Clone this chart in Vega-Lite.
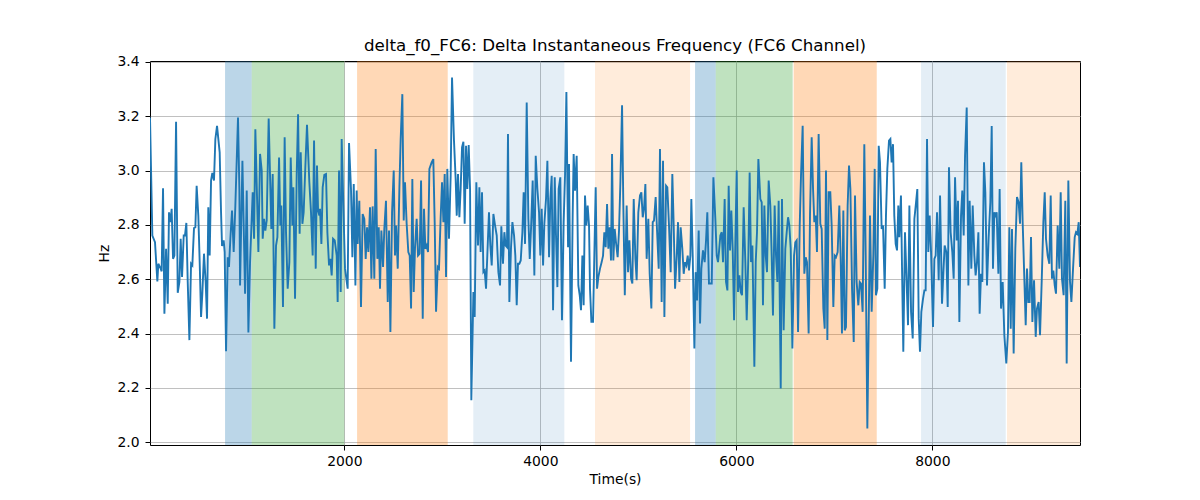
{
  "$schema": "https://vega.github.io/schema/vega-lite/v6.json",
  "width": 930,
  "height": 384,
  "autosize": {"type": "none"},
  "padding": {"left": 150, "top": 61, "right": 120, "bottom": 55},
  "background": "white",
  "title": {"text": "delta_f0_FC6: Delta Instantaneous Frequency (FC6 Channel)", "font": "DejaVu Sans", "fontSize": 16.7, "fontWeight": "normal", "color": "black", "offset": 0},
  "config": {
    "view": {"stroke": "black", "strokeWidth": 1},
    "axis": {"labelFont": "DejaVu Sans", "titleFont": "DejaVu Sans", "labelFontSize": 13.9, "titleFontSize": 13.9, "titleFontWeight": "normal", "labelColor": "black", "titleColor": "black", "tickColor": "black", "tickSize": 5, "domain": false, "gridColor": "#b0b0b0", "gridWidth": 0.8}
  },
  "datasets": {
    "bands": [
      {"start": 783, "end": 1055, "kind": "blue"},
      {"start": 1055, "end": 2000, "kind": "green"},
      {"start": 2130, "end": 3055, "kind": "orange"},
      {"start": 3316, "end": 4245, "kind": "lightblue"},
      {"start": 4558, "end": 5528, "kind": "lightorange"},
      {"start": 5579, "end": 5790, "kind": "blue"},
      {"start": 5790, "end": 6575, "kind": "green"},
      {"start": 6585, "end": 7433, "kind": "orange"},
      {"start": 7885, "end": 8749, "kind": "lightblue"},
      {"start": 8762, "end": 9507, "kind": "lightorange"}
    ],
    "series": [
      {"t":17,"v":3.195},{"t":41,"v":2.761},{"t":68,"v":2.736},{"t":92,"v":2.592},{"t":102,"v":2.657},{"t":126,"v":2.639},{"t":136,"v":2.629},{"t":150,"v":2.935},{"t":164,"v":2.473},{"t":181,"v":2.712},{"t":198,"v":2.510},{"t":211,"v":2.846},{"t":225,"v":2.810},{"t":238,"v":2.859},{"t":252,"v":2.675},{"t":266,"v":2.687},{"t":283,"v":3.179},{"t":300,"v":2.550},{"t":317,"v":2.590},{"t":330,"v":2.749},{"t":344,"v":2.608},{"t":361,"v":2.761},{"t":374,"v":2.761},{"t":388,"v":2.807},{"t":402,"v":2.590},{"t":419,"v":2.376},{"t":436,"v":2.657},{"t":449,"v":2.651},{"t":466,"v":2.788},{"t":480,"v":2.791},{"t":493,"v":2.944},{"t":510,"v":2.834},{"t":524,"v":2.663},{"t":538,"v":2.461},{"t":551,"v":2.547},{"t":568,"v":2.694},{"t":585,"v":2.590},{"t":599,"v":2.455},{"t":612,"v":2.865},{"t":626,"v":2.687},{"t":640,"v":2.963},{"t":653,"v":2.991},{"t":670,"v":2.963},{"t":684,"v":3.116},{"t":701,"v":3.164},{"t":728,"v":3.067},{"t":742,"v":2.846},{"t":752,"v":2.722},{"t":769,"v":2.743},{"t":779,"v":2.700},{"t":793,"v":2.335},{"t":810,"v":2.681},{"t":823,"v":2.645},{"t":837,"v":2.749},{"t":854,"v":2.853},{"t":871,"v":2.700},{"t":888,"v":2.871},{"t":915,"v":3.195},{"t":929,"v":2.932},
      {"t":936,"v":2.577},{"t":960,"v":3.036},{"t":987,"v":2.547},{"t":1004,"v":2.926},{"t":1021,"v":2.404},{"t":1038,"v":2.663},{"t":1065,"v":2.920},{"t":1079,"v":2.749},{"t":1092,"v":3.152},{"t":1123,"v":2.700},{"t":1140,"v":3.061},{"t":1157,"v":3.000},{"t":1167,"v":2.749},{"t":1181,"v":2.822},{"t":1194,"v":2.779},{"t":1208,"v":2.816},{"t":1228,"v":3.191},{"t":1255,"v":2.785},{"t":1269,"v":2.987},{"t":1286,"v":2.418},{"t":1303,"v":2.724},{"t":1317,"v":2.755},{"t":1334,"v":3.048},{"t":1347,"v":2.798},{"t":1357,"v":2.871},{"t":1374,"v":2.498},{"t":1391,"v":3.122},{"t":1405,"v":2.773},{"t":1422,"v":2.565},{"t":1439,"v":2.663},{"t":1453,"v":3.048},{"t":1470,"v":2.798},{"t":1480,"v":2.938},{"t":1497,"v":2.528},{"t":1514,"v":2.987},{"t":1528,"v":3.207},{"t":1544,"v":2.767},{"t":1555,"v":3.067},{"t":1572,"v":2.804},{"t":1585,"v":2.846},{"t":1602,"v":3.012},{"t":1619,"v":3.168},{"t":1643,"v":2.957},{"t":1660,"v":2.846},{"t":1677,"v":2.687},{"t":1691,"v":3.110},{"t":1708,"v":2.639},{"t":1721,"v":3.018},{"t":1732,"v":2.853},{"t":1745,"v":2.834},{"t":1752,"v":2.859},{"t":1766,"v":2.730},{"t":1779,"v":2.938},{"t":1796,"v":2.984},{"t":1813,"v":2.987},{"t":1827,"v":2.773},{"t":1844,"v":2.651},{"t":1857,"v":2.675},{"t":1871,"v":2.614},{"t":1885,"v":2.749},{"t":1902,"v":2.743},
      {"t":1922,"v":2.687},{"t":1932,"v":2.516},{"t":1946,"v":3.000},{"t":1963,"v":2.553},{"t":1973,"v":3.116},{"t":1990,"v":2.871},{"t":2007,"v":2.639},{"t":2034,"v":2.565},{"t":2048,"v":3.101},{"t":2068,"v":2.932},{"t":2082,"v":2.681},{"t":2096,"v":2.950},{"t":2113,"v":2.577},{"t":2126,"v":2.926},{"t":2136,"v":2.730},{"t":2153,"v":2.889},{"t":2170,"v":2.498},{"t":2187,"v":2.840},{"t":2204,"v":2.822},{"t":2218,"v":2.675},{"t":2232,"v":2.791},{"t":2245,"v":2.700},{"t":2262,"v":2.865},{"t":2276,"v":2.602},{"t":2289,"v":2.868},{"t":2306,"v":2.602},{"t":2320,"v":3.079},{"t":2337,"v":2.675},{"t":2351,"v":2.791},{"t":2364,"v":2.565},{"t":2378,"v":2.779},{"t":2395,"v":2.645},{"t":2408,"v":2.785},{"t":2425,"v":2.889},{"t":2443,"v":2.516},{"t":2456,"v":2.779},{"t":2470,"v":2.406},{"t":2487,"v":2.846},{"t":2504,"v":3.000},{"t":2517,"v":2.687},{"t":2528,"v":2.798},{"t":2545,"v":2.639},{"t":2562,"v":2.938},{"t":2575,"v":3.116},{"t":2592,"v":3.281},{"t":2606,"v":2.816},{"t":2619,"v":2.957},{"t":2636,"v":2.804},{"t":2653,"v":2.700},{"t":2667,"v":2.687},{"t":2681,"v":2.492},{"t":2694,"v":2.969},{"t":2708,"v":2.553},{"t":2721,"v":2.712},{"t":2738,"v":2.822},{"t":2752,"v":2.687},{"t":2769,"v":2.694},{"t":2783,"v":2.963},{"t":2800,"v":2.455},{"t":2813,"v":2.859},{"t":2827,"v":2.712},{"t":2840,"v":2.724},{"t":2854,"v":2.700},{"t":2868,"v":3.006},
      {"t":2891,"v":3.030},{"t":2908,"v":3.042},{"t":2922,"v":2.810},{"t":2936,"v":2.480},{"t":2953,"v":2.645},{"t":2966,"v":2.639},{"t":2983,"v":2.828},{"t":2997,"v":2.957},{"t":3011,"v":2.810},{"t":3024,"v":2.987},{"t":3038,"v":2.608},{"t":3051,"v":3.006},{"t":3068,"v":2.749},{"t":3085,"v":2.981},{"t":3099,"v":3.342},{"t":3119,"v":3.110},{"t":3136,"v":2.969},{"t":3147,"v":2.834},{"t":3160,"v":2.987},{"t":3174,"v":2.828},{"t":3187,"v":2.932},{"t":3201,"v":3.085},{"t":3215,"v":3.106},{"t":3228,"v":2.804},{"t":3242,"v":3.091},{"t":3255,"v":2.932},{"t":3269,"v":3.094},{"t":3283,"v":2.932},{"t":3296,"v":2.155},{"t":3317,"v":2.553},{"t":3330,"v":2.461},{"t":3347,"v":2.957},{"t":3364,"v":2.724},{"t":3378,"v":2.938},{"t":3391,"v":2.700},{"t":3405,"v":2.920},{"t":3419,"v":2.626},{"t":3432,"v":2.632},{"t":3446,"v":2.565},{"t":3459,"v":2.687},{"t":3476,"v":2.846},{"t":3490,"v":2.724},{"t":3504,"v":2.651},{"t":3521,"v":2.840},{"t":3538,"v":2.798},{"t":3555,"v":2.761},{"t":3572,"v":2.626},{"t":3589,"v":2.577},{"t":3602,"v":2.795},{"t":3619,"v":2.657},{"t":3633,"v":2.773},{"t":3646,"v":2.724},{"t":3660,"v":2.718},{"t":3670,"v":3.134},{"t":3684,"v":2.516},{"t":3701,"v":2.718},{"t":3715,"v":2.810},{"t":3732,"v":2.761},{"t":3745,"v":2.687},{"t":3759,"v":2.504},{"t":3772,"v":2.657},{"t":3786,"v":2.657},{"t":3800,"v":2.669},{"t":3817,"v":2.773},{"t":3830,"v":2.920},{"t":3844,"v":2.730},
      {"t":3861,"v":3.250},{"t":3878,"v":2.822},{"t":3892,"v":2.675},{"t":3905,"v":2.785},{"t":3922,"v":2.963},{"t":3939,"v":2.614},{"t":3953,"v":3.054},{"t":3970,"v":2.932},{"t":3987,"v":2.846},{"t":4000,"v":2.687},{"t":4014,"v":2.859},{"t":4028,"v":2.651},{"t":4041,"v":2.804},{"t":4058,"v":2.895},{"t":4072,"v":3.036},{"t":4089,"v":2.681},{"t":4102,"v":2.895},{"t":4116,"v":2.981},{"t":4130,"v":2.486},{"t":4147,"v":2.975},{"t":4160,"v":2.761},{"t":4174,"v":2.571},{"t":4187,"v":2.932},{"t":4204,"v":2.975},{"t":4221,"v":2.449},{"t":4238,"v":2.810},{"t":4252,"v":2.981},{"t":4266,"v":3.289},{"t":4283,"v":2.718},{"t":4293,"v":3.024},{"t":4313,"v":2.296},{"t":4330,"v":2.834},{"t":4340,"v":3.061},{"t":4354,"v":2.926},{"t":4371,"v":3.054},{"t":4388,"v":2.577},{"t":4402,"v":2.541},{"t":4415,"v":2.486},{"t":4429,"v":2.687},{"t":4442,"v":2.504},{"t":4456,"v":2.908},{"t":4470,"v":2.798},{"t":4483,"v":2.871},{"t":4497,"v":2.798},{"t":4507,"v":2.565},{"t":4521,"v":2.443},{"t":4538,"v":2.443},{"t":4551,"v":2.687},{"t":4565,"v":2.938},{"t":4579,"v":2.565},{"t":4592,"v":2.608},{"t":4609,"v":2.639},{"t":4626,"v":2.663},{"t":4640,"v":2.687},{"t":4653,"v":2.773},{"t":4667,"v":2.718},{"t":4681,"v":2.877},{"t":4694,"v":2.712},{"t":4708,"v":2.791},{"t":4721,"v":2.669},{"t":4732,"v":3.061},{"t":4745,"v":2.669},{"t":4759,"v":2.785},{"t":4772,"v":2.736},{"t":4789,"v":2.681},{"t":4803,"v":2.779},{"t":4817,"v":2.957},{"t":4834,"v":3.240},{"t":4847,"v":2.871},{"t":4862,"v":2.541},
      {"t":4881,"v":2.871},{"t":4895,"v":2.626},{"t":4909,"v":2.743},{"t":4926,"v":2.602},{"t":4939,"v":2.584},{"t":4953,"v":2.895},{"t":4970,"v":2.675},{"t":4983,"v":2.596},{"t":5000,"v":2.846},{"t":5017,"v":2.908},{"t":5031,"v":2.920},{"t":5045,"v":2.828},{"t":5058,"v":2.859},{"t":5072,"v":2.950},{"t":5085,"v":2.675},{"t":5102,"v":2.822},{"t":5116,"v":2.620},{"t":5133,"v":2.492},{"t":5147,"v":2.810},{"t":5160,"v":2.816},{"t":5177,"v":2.902},{"t":5191,"v":2.779},{"t":5208,"v":2.639},{"t":5221,"v":3.079},{"t":5238,"v":2.516},{"t":5252,"v":3.036},{"t":5266,"v":2.461},{"t":5283,"v":2.944},{"t":5296,"v":2.938},{"t":5313,"v":2.798},{"t":5330,"v":2.626},{"t":5347,"v":2.987},{"t":5361,"v":2.798},{"t":5375,"v":2.565},{"t":5392,"v":2.687},{"t":5405,"v":2.810},{"t":5419,"v":2.590},{"t":5432,"v":2.791},{"t":5449,"v":2.712},{"t":5463,"v":2.620},{"t":5477,"v":2.663},{"t":5490,"v":2.651},{"t":5504,"v":2.687},{"t":5517,"v":2.632},{"t":5531,"v":2.687},{"t":5541,"v":2.895},{"t":5555,"v":2.687},{"t":5572,"v":2.345},{"t":5585,"v":2.626},{"t":5599,"v":2.522},{"t":5616,"v":2.779},{"t":5630,"v":2.437},{"t":5643,"v":2.639},{"t":5660,"v":2.706},{"t":5677,"v":2.663},{"t":5691,"v":2.743},{"t":5704,"v":2.846},{"t":5721,"v":2.584},{"t":5735,"v":2.584},{"t":5749,"v":2.584},{"t":5766,"v":2.975},{"t":5786,"v":2.822},{"t":5800,"v":2.687},{"t":5813,"v":2.663},
      {"t":5823,"v":2.700},{"t":5837,"v":2.761},{"t":5851,"v":2.773},{"t":5864,"v":2.663},{"t":5881,"v":2.895},{"t":5895,"v":2.590},{"t":5909,"v":2.559},{"t":5922,"v":2.944},{"t":5936,"v":2.706},{"t":5949,"v":2.853},{"t":5963,"v":2.712},{"t":5977,"v":2.449},{"t":5990,"v":2.736},{"t":6004,"v":3.000},{"t":6017,"v":2.553},{"t":6031,"v":2.614},{"t":6045,"v":2.553},{"t":6058,"v":2.541},{"t":6075,"v":2.865},{"t":6092,"v":2.663},{"t":6106,"v":2.449},{"t":6123,"v":2.687},{"t":6136,"v":2.993},{"t":6150,"v":2.663},{"t":6164,"v":2.724},{"t":6184,"v":2.278},{"t":6198,"v":2.663},{"t":6211,"v":2.773},{"t":6225,"v":3.042},{"t":6245,"v":2.895},{"t":6259,"v":2.883},{"t":6272,"v":2.504},{"t":6286,"v":2.871},{"t":6300,"v":2.687},{"t":6313,"v":2.626},{"t":6330,"v":2.963},{"t":6347,"v":2.871},{"t":6361,"v":2.687},{"t":6374,"v":2.467},{"t":6391,"v":2.871},{"t":6405,"v":2.687},{"t":6419,"v":2.590},{"t":6432,"v":2.889},{"t":6453,"v":2.198},{"t":6466,"v":2.895},{"t":6483,"v":2.412},{"t":6500,"v":2.712},{"t":6514,"v":2.773},{"t":6528,"v":2.828},{"t":6541,"v":2.798},{"t":6555,"v":2.712},{"t":6572,"v":2.345},{"t":6589,"v":2.687},{"t":6602,"v":2.736},{"t":6616,"v":2.743},{"t":6630,"v":2.406},{"t":6647,"v":2.798},{"t":6660,"v":2.981},{"t":6677,"v":3.165},{"t":6694,"v":2.620},{"t":6708,"v":2.681},{"t":6721,"v":2.663},{"t":6738,"v":2.400},{"t":6752,"v":2.840},{"t":6769,"v":3.122},
      {"t":6783,"v":2.932},{"t":6796,"v":2.810},{"t":6810,"v":2.834},{"t":6823,"v":2.700},{"t":6840,"v":3.134},{"t":6857,"v":2.804},{"t":6871,"v":2.785},{"t":6888,"v":2.492},{"t":6902,"v":2.418},{"t":6915,"v":3.000},{"t":6929,"v":2.376},{"t":6942,"v":2.920},{"t":6959,"v":2.920},{"t":6973,"v":2.798},{"t":6990,"v":2.498},{"t":7004,"v":2.687},{"t":7017,"v":2.681},{"t":7034,"v":2.700},{"t":7051,"v":2.871},{"t":7065,"v":2.675},{"t":7078,"v":2.400},{"t":7092,"v":2.853},{"t":7106,"v":2.412},{"t":7119,"v":2.424},{"t":7136,"v":2.871},{"t":7150,"v":3.018},{"t":7164,"v":2.932},{"t":7181,"v":2.565},{"t":7198,"v":2.369},{"t":7211,"v":2.908},{"t":7228,"v":2.590},{"t":7245,"v":2.504},{"t":7259,"v":2.590},{"t":7272,"v":2.584},{"t":7289,"v":2.480},{"t":7306,"v":3.097},{"t":7320,"v":2.687},{"t":7337,"v":2.051},{"t":7351,"v":2.443},{"t":7364,"v":2.834},{"t":7381,"v":2.480},{"t":7398,"v":2.687},{"t":7412,"v":3.006},{"t":7425,"v":2.541},{"t":7439,"v":2.565},{"t":7453,"v":3.091},{"t":7466,"v":3.030},{"t":7483,"v":2.785},{"t":7497,"v":2.798},{"t":7514,"v":2.565},{"t":7527,"v":2.834},{"t":7541,"v":3.006},{"t":7558,"v":3.110},{"t":7572,"v":3.116},{"t":7585,"v":3.030},{"t":7599,"v":3.097},{"t":7612,"v":2.834},{"t":7626,"v":2.730},{"t":7640,"v":2.706},{"t":7653,"v":2.871},{"t":7663,"v":2.755},{"t":7680,"v":2.908},{"t":7691,"v":2.639},{"t":7704,"v":2.333},{"t":7721,"v":2.773},{"t":7738,"v":2.590},{"t":7752,"v":2.431},
      {"t":7766,"v":2.871},{"t":7783,"v":2.480},{"t":7800,"v":2.382},{"t":7817,"v":2.822},{"t":7834,"v":2.883},{"t":7847,"v":2.932},{"t":7861,"v":2.455},{"t":7874,"v":2.333},{"t":7888,"v":2.480},{"t":7905,"v":2.528},{"t":7919,"v":2.559},{"t":7932,"v":2.559},{"t":7946,"v":3.116},{"t":7959,"v":2.700},{"t":7973,"v":2.834},{"t":7987,"v":2.700},{"t":8007,"v":2.424},{"t":8021,"v":2.675},{"t":8034,"v":2.687},{"t":8048,"v":2.846},{"t":8065,"v":2.596},{"t":8079,"v":2.908},{"t":8099,"v":2.510},{"t":8113,"v":2.626},{"t":8126,"v":2.724},{"t":8143,"v":2.700},{"t":8157,"v":2.498},{"t":8170,"v":3.012},{"t":8187,"v":2.773},{"t":8204,"v":2.700},{"t":8218,"v":2.602},{"t":8232,"v":2.975},{"t":8249,"v":2.743},{"t":8262,"v":2.889},{"t":8276,"v":2.443},{"t":8293,"v":2.834},{"t":8306,"v":2.926},{"t":8320,"v":2.761},{"t":8334,"v":3.054},{"t":8351,"v":3.232},{"t":8368,"v":2.577},{"t":8381,"v":2.889},{"t":8398,"v":2.639},{"t":8412,"v":2.871},{"t":8429,"v":2.687},{"t":8442,"v":2.614},{"t":8456,"v":2.663},{"t":8470,"v":2.773},{"t":8483,"v":2.473},{"t":8497,"v":2.620},{"t":8510,"v":2.590},{"t":8527,"v":3.030},{"t":8541,"v":2.920},{"t":8558,"v":2.577},{"t":8575,"v":2.755},{"t":8592,"v":2.883},{"t":8606,"v":3.164},{"t":8619,"v":2.639},{"t":8633,"v":2.846},{"t":8647,"v":2.834},{"t":8657,"v":2.846},{"t":8674,"v":2.620},{"t":8687,"v":2.932},{"t":8701,"v":2.492},
      {"t":8718,"v":2.590},{"t":8735,"v":2.394},{"t":8755,"v":2.290},{"t":8772,"v":2.406},{"t":8786,"v":2.791},{"t":8800,"v":2.418},{"t":8813,"v":2.785},{"t":8830,"v":2.327},{"t":8847,"v":2.712},{"t":8864,"v":2.902},{"t":8881,"v":2.883},{"t":8895,"v":2.804},{"t":8908,"v":3.030},{"t":8922,"v":2.810},{"t":8936,"v":2.639},{"t":8953,"v":2.431},{"t":8966,"v":2.639},{"t":8980,"v":2.516},{"t":8993,"v":2.516},{"t":9007,"v":2.755},{"t":9021,"v":2.443},{"t":9038,"v":2.596},{"t":9055,"v":2.388},{"t":9068,"v":2.492},{"t":9085,"v":2.516},{"t":9099,"v":2.394},{"t":9116,"v":2.590},{"t":9133,"v":2.810},{"t":9147,"v":2.920},{"t":9160,"v":2.749},{"t":9177,"v":2.687},{"t":9194,"v":2.657},{"t":9208,"v":2.908},{"t":9221,"v":2.602},{"t":9235,"v":2.632},{"t":9249,"v":2.577},{"t":9262,"v":2.547},{"t":9279,"v":2.798},{"t":9296,"v":2.639},{"t":9310,"v":2.920},{"t":9323,"v":2.602},{"t":9340,"v":2.541},{"t":9357,"v":2.889},{"t":9371,"v":2.290},{"t":9388,"v":2.963},{"t":9405,"v":2.590},{"t":9419,"v":2.516},{"t":9436,"v":2.639},{"t":9453,"v":2.755},{"t":9466,"v":2.773},{"t":9480,"v":2.767},{"t":9494,"v":2.810},{"t":9507,"v":2.645}
    ]
  },
  "layer": [
    {
      "data": {"name": "bands"},
      "mark": {"type": "rect", "clip": true},
      "encoding": {
        "x": {"field": "start", "type": "quantitative", "scale": {"domain": [17, 9507], "nice": false, "zero": false}, "axis": {"title": "Time(s)", "values": [2000, 4000, 6000, 8000], "format": "d", "grid": true, "labelPadding": 4, "titlePadding": 5}},
        "x2": {"field": "end"},
        "color": {"field": "kind", "type": "nominal", "legend": null, "scale": {"domain": ["blue", "green", "orange", "lightblue", "lightorange"], "range": ["rgba(31,119,180,0.3)", "rgba(44,160,44,0.3)", "rgba(255,127,14,0.3)", "rgba(31,119,180,0.12)", "rgba(255,127,14,0.15)"]}}
      }
    },
    {
      "data": {"name": "series"},
      "mark": {"type": "line", "color": "#1f77b4", "strokeWidth": 1.9, "clip": true},
      "encoding": {
        "x": {"field": "t", "type": "quantitative"},
        "y": {"field": "v", "type": "quantitative", "scale": {"domain": [1.99, 3.403], "nice": false, "zero": false}, "axis": {"title": "Hz", "values": [2.0, 2.2, 2.4, 2.6, 2.8, 3.0, 3.2, 3.4], "format": ".1f", "grid": true, "labelPadding": 6, "titlePadding": 5}}
      }
    }
  ]
}
